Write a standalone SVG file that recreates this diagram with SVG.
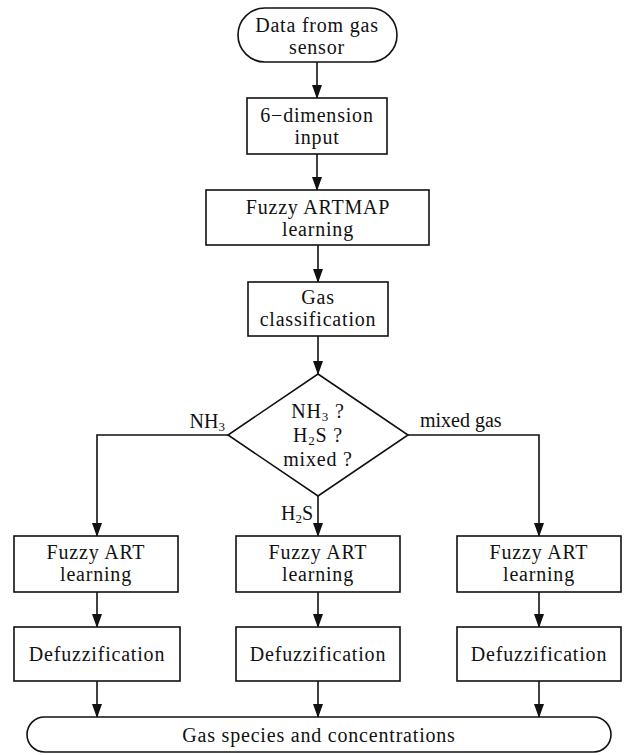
<svg xmlns="http://www.w3.org/2000/svg" width="624" height="755" viewBox="0 0 624 755">
<defs>
<style>
.n{fill:#fff;stroke:#111;stroke-width:1.6}
.t{font-family:"Liberation Serif","Times New Roman",serif;font-size:20px;letter-spacing:0.8px;fill:#111;text-anchor:middle}
.l{font-family:"Liberation Serif","Times New Roman",serif;font-size:20px;fill:#111}
.c{fill:none;stroke:#111;stroke-width:1.6}
.s{font-size:13px}
</style>
<marker id="ad" markerUnits="userSpaceOnUse" markerWidth="14" markerHeight="10" refX="13" refY="5" orient="auto" viewBox="0 0 14 10">
<path d="M0,0 L14,5 L0,10 Z" fill="#111"/>
</marker>
</defs>
<g id="connectors">
<path class="c" d="M317,62 V98" marker-end="url(#ad)"/>
<path class="c" d="M317,154 V190" marker-end="url(#ad)"/>
<path class="c" d="M318,245 V282" marker-end="url(#ad)"/>
<path class="c" d="M318,336 V374" marker-end="url(#ad)"/>
<path class="c" d="M228,435 H97 V536" marker-end="url(#ad)"/>
<path class="c" d="M318,496 V536" marker-end="url(#ad)"/>
<path class="c" d="M408,435 H539 V536" marker-end="url(#ad)"/>
<path class="c" d="M97,592 V627" marker-end="url(#ad)"/>
<path class="c" d="M318,592 V627" marker-end="url(#ad)"/>
<path class="c" d="M539,592 V627" marker-end="url(#ad)"/>
<path class="c" d="M97,681 V717" marker-end="url(#ad)"/>
<path class="c" d="M318,681 V717" marker-end="url(#ad)"/>
<path class="c" d="M539,681 V717" marker-end="url(#ad)"/>
<text class="l" x="225" y="428" text-anchor="end">NH<tspan class="s" dy="3">3</tspan></text>
<text class="l" x="420" y="427">mixed gas</text>
<text class="l" x="313" y="520" text-anchor="end">H<tspan class="s" dy="3">2</tspan><tspan dy="-3">S</tspan></text>
</g>
<g id="start">
<rect class="n" x="238" y="8" width="159" height="54" rx="27" ry="27"/>
<text class="t" x="317" y="32">Data from gas</text>
<text class="t" x="317" y="54">sensor</text>
</g>
<g id="input">
<rect class="n" x="247" y="98" width="140" height="56"/>
<text class="t" x="317" y="122">6−dimension</text>
<text class="t" x="317" y="144">input</text>
</g>
<g id="artmap">
<rect class="n" x="206" y="190" width="223" height="55"/>
<text class="t" x="318" y="214">Fuzzy ARTMAP</text>
<text class="t" x="318" y="236">learning</text>
</g>
<g id="classify">
<rect class="n" x="248" y="282" width="140" height="54"/>
<text class="t" x="318" y="304">Gas</text>
<text class="t" x="318" y="326">classification</text>
</g>
<g id="decision">
<polygon class="n" points="318,374 408,435 318,496 228,435"/>
<text class="t" x="318" y="418">NH<tspan class="s" dy="3">3</tspan><tspan dy="-3"> ?</tspan></text>
<text class="t" x="318" y="442">H<tspan class="s" dy="3">2</tspan><tspan dy="-3">S ?</tspan></text>
<text class="t" x="318" y="466">mixed ?</text>
</g>
<g id="art1">
<rect class="n" x="14" y="536" width="164" height="56"/>
<text class="t" x="96" y="559">Fuzzy ART</text>
<text class="t" x="96" y="581">learning</text>
</g>
<g id="art2">
<rect class="n" x="236" y="536" width="164" height="56"/>
<text class="t" x="318" y="559">Fuzzy ART</text>
<text class="t" x="318" y="581">learning</text>
</g>
<g id="art3">
<rect class="n" x="457" y="536" width="164" height="56"/>
<text class="t" x="539" y="559">Fuzzy ART</text>
<text class="t" x="539" y="581">learning</text>
</g>
<g id="defuzz1">
<rect class="n" x="14" y="627" width="166" height="54"/>
<text class="t" x="97" y="661">Defuzzification</text>
</g>
<g id="defuzz2">
<rect class="n" x="236" y="627" width="164" height="54"/>
<text class="t" x="318" y="661">Defuzzification</text>
</g>
<g id="defuzz3">
<rect class="n" x="457" y="627" width="164" height="54"/>
<text class="t" x="539" y="661">Defuzzification</text>
</g>
<g id="output">
<rect class="n" x="27" y="717" width="584" height="35" rx="17.5" ry="17.5"/>
<text class="t" x="319" y="742">Gas species and concentrations</text>
</g>
</svg>
